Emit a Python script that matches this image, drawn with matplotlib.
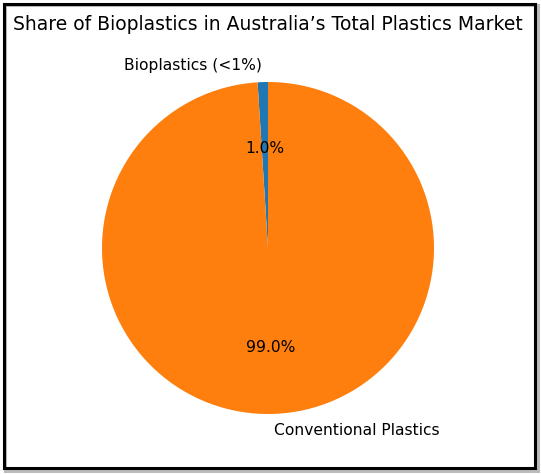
import matplotlib
matplotlib.use("Agg")
import matplotlib.pyplot as plt
from matplotlib.patches import Rectangle

labels = ['Bioplastics (<1%)', 'Conventional Plastics']
sizes = [1, 99]
title = 'Share of Bioplastics in Australia\u2019s Total Plastics Market'

W, H = 541, 474
fig = plt.figure(figsize=(W / 100, H / 100), dpi=100)
ax = fig.add_axes([60.5 / W, (H - 455.5) / H, 415 / W, 415 / H])
ax.pie(sizes, labels=labels, autopct='%1.1f%%', startangle=90,
       textprops={'fontsize': 11.2})
ax.set_aspect('equal')
ax.set_xlim(-1.25, 1.25)
ax.set_ylim(-1.25, 1.25)

fig.text(268 / W, (H - 25) / H, title, ha='center', va='center', fontsize=13.5)

# frame around the figure (with a light shadow on the right/bottom)
fig.patches.append(Rectangle((5 / W, 1 - 471 / H), 533 / W, 466 / H, transform=fig.transFigure,
                             fill=False, edgecolor='#bbbbbb', linewidth=2.2))
fig.patches.append(Rectangle((3.5 / W, 1 - 467.5 / H), 531 / W, 464 / H, transform=fig.transFigure,
                             fill=False, edgecolor='black', linewidth=2.2))

plt.savefig('out.png', dpi=100)
